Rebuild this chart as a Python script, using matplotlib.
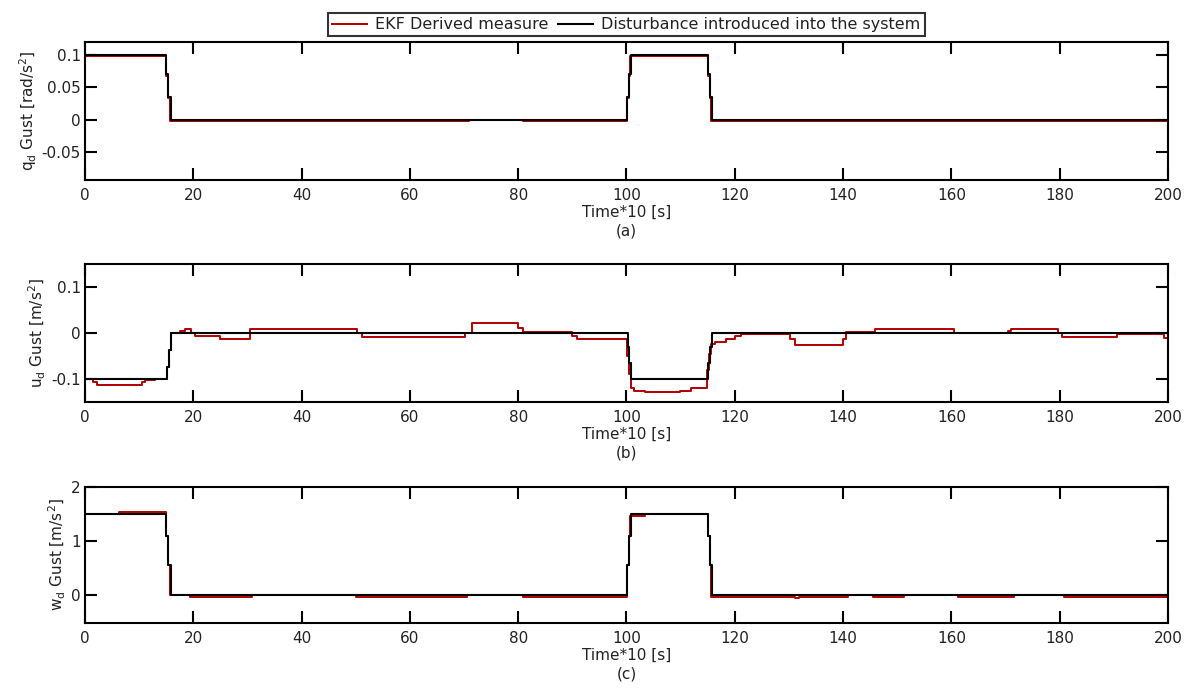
import matplotlib
matplotlib.use("Agg")
import matplotlib.pyplot as plt

plt.rcParams['font.family'] = ['DejaVu Sans']
plt.rcParams['mathtext.fontset'] = 'dejavusans'

# time axis is Time*10 [s], step signals (value holds until next time)
# (a) pitch rate gust q_d
t_q_ekf = [0, 15.0, 15.4, 15.7, 70.9, 80.8, 100.1, 100.4, 100.7, 115.0, 115.4, 115.7, 200]
q_ekf = [0.098, 0.068, 0.033, -0.002, 0.0, -0.002, 0.033, 0.068, 0.098, 0.068, 0.033, -0.002, -0.002]
t_q_dist = [0, 15.0, 15.4, 15.8, 100.1, 100.4, 100.8, 115.0, 115.4, 115.8, 200]
q_dist = [0.1, 0.07, 0.035, 0.0, 0.035, 0.07, 0.1, 0.07, 0.035, 0.0, 0.0]

# (b) u_d gust
t_u_ekf = [0, 1.5, 2.3, 10.5, 11.1, 12.9, 15.1, 15.5, 15.8, 17.5, 18.5, 19.6, 20.3, 25.0,
           30.5, 50.2, 51.1, 70.2, 71.5, 80.0, 80.9, 89.9, 90.8, 100.1, 100.5, 100.9,
           101.3, 103.4, 109.9, 112.0, 114.8, 115.3, 115.7, 116.3, 118.4, 120.0, 121.2,
           130.2, 131.1, 140.0, 140.6, 145.9, 160.4, 170.5, 171.1, 179.7, 180.5, 190.5,
           199.3, 200]
u_ekf = [-0.1, -0.106, -0.113, -0.106, -0.102, -0.1, -0.074, -0.038, 0.0, 0.004, 0.008, 0.0,
         -0.006, -0.014, 0.009, 0.0, -0.009, 0.0, 0.021, 0.012, 0.003, -0.006, -0.014,
         -0.05, -0.09, -0.12, -0.125, -0.129, -0.125, -0.12, -0.08, -0.045, -0.024, -0.02,
         -0.013, -0.006, -0.002, -0.013, -0.025, -0.012, 0.003, 0.009, 0.0, 0.004, 0.009,
         0.0, -0.008, -0.002, -0.01, -0.01]
t_u_dist = [0, 15.1, 15.5, 15.8, 100.2, 100.5, 100.8, 115.1, 115.4, 115.8, 200]
u_dist = [-0.1, -0.074, -0.038, 0.0, -0.03, -0.065, -0.1, -0.065, -0.03, 0.0, 0.0]

# (c) w_d gust
t_w_ekf = [0, 6.2, 15.0, 15.4, 15.7, 19.4, 30.9, 50.0, 70.5, 80.8, 100.1, 100.4, 100.7,
           103.4, 115.0, 115.4, 115.7, 131.2, 131.9, 141.0, 145.5, 151.3, 161.2, 171.5,
           180.8, 200]
w_ekf = [1.5, 1.53, 1.1, 0.55, 0.0, -0.03, 0.0, -0.03, 0.0, -0.03, 0.55, 1.1, 1.47,
         1.5, 1.1, 0.55, -0.03, -0.06, -0.03, 0.0, -0.03, 0.0, -0.03, 0.0, -0.03, -0.03]
t_w_dist = [0, 15.0, 15.4, 15.8, 100.1, 100.4, 100.8, 115.0, 115.4, 115.8, 200]
w_dist = [1.5, 1.1, 0.55, 0.0, 0.55, 1.1, 1.5, 1.1, 0.55, 0.0, 0.0]

panels = [
    (t_q_ekf, q_ekf, t_q_dist, q_dist, r'q$_\mathrm{d}$ Gust [rad/s$^2$]', (-0.093, 0.12),
     [-0.05, 0, 0.05, 0.1], ['-0.05', '0', '0.05', '0.1'], '(a)'),
    (t_u_ekf, u_ekf, t_u_dist, u_dist, r'u$_\mathrm{d}$ Gust [m/s$^2$]', (-0.15, 0.15),
     [-0.1, 0, 0.1], ['-0.1', '0', '0.1'], '(b)'),
    (t_w_ekf, w_ekf, t_w_dist, w_dist, r'w$_\mathrm{d}$ Gust [m/s$^2$]', (-0.52, 2),
     [0, 1, 2], ['0', '1', '2'], '(c)'),
]

fig = plt.figure(figsize=(11.95, 6.93), dpi=100)
boxes = [[0.0711, 0.7403, 0.9063, 0.1991],
         [0.0711, 0.4199, 0.9063, 0.1991],
         [0.0711, 0.1010, 0.9063, 0.1963]]

red = '#b00000'
txt = '#222222'
fs = 11
for box, (te, ye, td, yd, ylab, ylim, yt, ytl, tag) in zip(boxes, panels):
    ax = fig.add_axes(box)
    l1, = ax.step(te, ye, where='post', color=red, lw=1.4, label='EKF Derived measure')
    l2, = ax.step(td, yd, where='post', color='black', lw=1.5,
                  label='Disturbance introduced into the system')
    ax.set_xlim(0, 200)
    ax.set_ylim(*ylim)
    ax.set_xticks(range(0, 201, 20))
    ax.set_yticks(yt)
    ax.set_yticklabels(ytl)
    ax.tick_params(direction='in', top=True, right=True, length=8.5, width=1.5,
                   labelsize=fs, colors='black', labelcolor=txt)
    ax.tick_params(axis='x', pad=6)
    ax.tick_params(axis='y', pad=3)
    for s in ax.spines.values():
        s.set_linewidth(1.5)
    ax.set_ylabel(ylab, fontsize=fs, color=txt, labelpad=2)
    ax.set_xlabel('Time*10 [s]\n' + tag, fontsize=fs, color=txt,
                  labelpad=1, linespacing=1.3)
    if tag == '(a)':
        leg = ax.legend(handles=[l1, l2], loc='lower center', bbox_to_anchor=(0.5, 1.0),
                        ncol=2, fontsize=11.5, frameon=True, fancybox=False,
                        edgecolor='black', handlelength=2.2, columnspacing=0.6,
                        handletextpad=0.5, borderpad=0.25, borderaxespad=0.35)
        leg.get_frame().set_linewidth(1.5)
        for t in leg.get_texts():
            t.set_color(txt)

fig.savefig('out.png', dpi=100)
